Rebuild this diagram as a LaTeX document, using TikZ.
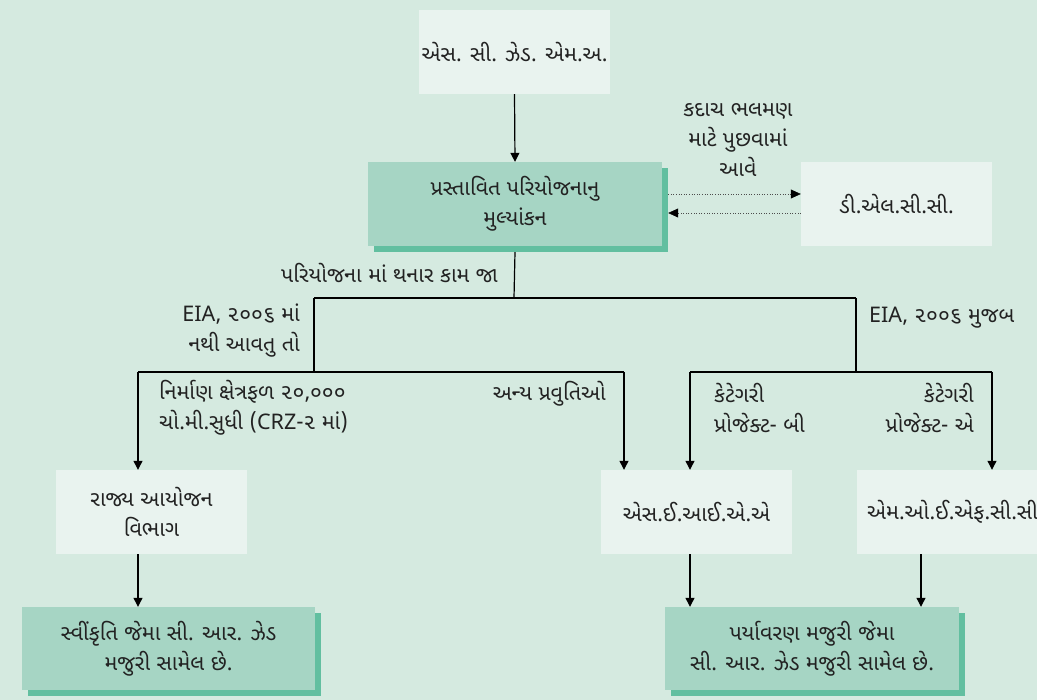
\documentclass[tikz,border=0pt]{standalone}
\usepackage{fontspec}
\newfontfamily\guj[Script=Gujarati]{Noto Sans Gujarati UI}
\newfontfamily\lat{Noto Sans}
\usetikzlibrary{arrows.meta,shadows}
\definecolor{bgc}{HTML}{D5EAE0}
\definecolor{lightc}{HTML}{E9F3EF}
\definecolor{midc}{HTML}{A6D5C4}
\definecolor{shadc}{HTML}{62BFA0}
\definecolor{txt}{HTML}{222222}
\tikzset{
  lbox/.style={fill=lightc, minimum width=191pt, minimum height=84pt, inner sep=0pt, align=center, text=txt},
  gbox/.style={fill=midc, minimum height=84pt, inner sep=0pt, align=center, text=txt,
    general shadow={fill=shadc, shadow xshift=6pt, shadow yshift=-6pt}},
  lbl/.style={inner sep=0pt, text=txt},
  conn/.style={line width=1.2pt, draw=black},
  arr/.style={conn, -{Triangle[length=9pt,width=9pt]}},
  dotarr/.style={draw=black!70, dotted, line width=0.6pt, -{Triangle[length=10pt,width=9pt,color=black]}},
}
\begin{document}
\begin{tikzpicture}[x=1pt,y=-1pt, font=\guj\fontsize{21.5}{30}\selectfont]
\useasboundingbox (0,0) rectangle (1037,700);
\clip (0,0) rectangle (1037,700);
\fill[bgc] (0,0) rectangle (1037,700);

% nodes
\node[lbox] (scz) at (514.5,52) {એસ. સી. ઝેડ. એમ.અ.};
\node[gbox, minimum width=294pt] (main) at (515,204) {પ્રસ્તાવિત પરિયોજનાનુ\\મુલ્યાંકન};
\node[lbox] (dlcc) at (896.5,204) {ડી.એલ.સી.સી.};
\node[lbox] (rajya) at (151.5,512) {રાજ્ય આયોજન\\વિભાગ};
\node[lbox] (seiaa) at (696.5,512) {એસ.ઈ.આઈ.એ.એ};
\node[lbox] (moef) at (952.5,512) {એમ.ઓ.ઈ.એફ.સી.સી};
\node[gbox, minimum width=293pt, minimum height=83pt] (sw) at (168.5,648.5) {સ્વીંકૃતિ જેમા સી. આર. ઝેડ\\મજુરી સામેલ છે.};
\node[gbox, minimum width=294pt, minimum height=83pt] (pm) at (812,648.5) {પર્યાવરણ મજુરી જેમા\\સી. આર. ઝેડ મજુરી સામેલ છે.};

% junctions
\coordinate (j1) at (514,298);
\coordinate (jl) at (314,298);
\coordinate (jr) at (856,298);
\coordinate (l2) at (314,372);
\coordinate (r2) at (856,372);
\coordinate (a) at (138,372);
\coordinate (b) at (624,372);
\coordinate (c) at (690,372);
\coordinate (d) at (992,372);
\coordinate (e) at (921,372);

% connectors
\draw[arr] (scz.south) -- (main.north);
\draw[conn] ([yshift=-6pt]main.south) -- (j1);
\draw[conn] (jl) -- (jr);
\draw[conn] (jl) -- (l2);
\draw[conn] (jr) -- (r2);
\draw[conn] (a) -- (b);
\draw[conn] (c) -- (d);
\draw[arr] (a) -- (a |- rajya.north);
\draw[arr] (b) -- (b |- seiaa.north);
\draw[arr] (c) -- (c |- seiaa.north);
\draw[arr] (d) -- (d |- moef.north);
\draw[arr] (a |- rajya.south) -- (a |- sw.north);
\draw[arr] (c |- seiaa.south) -- (c |- pm.north);
\draw[arr] (e |- moef.south) -- (e |- pm.north);
\draw[dotarr] ([shift={(6,-10)}]main.east) -- ([shift={(0,-10)}]dlcc.west);
\draw[dotarr] ([shift={(0,9)}]dlcc.west) -- ([shift={(6,9)}]main.east);

% labels
\node[lbl, align=center] (q) at (738,140) {કદાચ ભલમણ\\માટે પુછવામાં\\આવે};
\node[lbl, anchor=east] (w) at (498,273) {પરિયોજના માં થનાર કામ જા};
\node[lbl, anchor=east, align=right] (eia1) at (300,331) {{\lat EIA}, ૨૦૦૬ માં\\નથી આવતુ તો};
\node[lbl, anchor=west] (eia2) at (869,318) {{\lat EIA}, ૨૦૦૬ મુજબ};
\node[lbl, anchor=west, align=left] (nir) at (159,408) {નિર્માણ ક્ષેત્રફળ ૨૦,૦૦૦\\ચો.મી.સુધી ({\lat CRZ}-૨ માં)};
\node[lbl, anchor=east] (anya) at (606,394) {અન્ય પ્રવુતિઓ};
\node[lbl, anchor=west, align=left] (kb) at (714,408) {કેટેગરી\\પ્રોજેક્ટ- બી};
\node[lbl, anchor=east, align=right] (ka) at (974,408) {કેટેગરી\\પ્રોજેક્ટ- એ};
\end{tikzpicture}
\end{document}
